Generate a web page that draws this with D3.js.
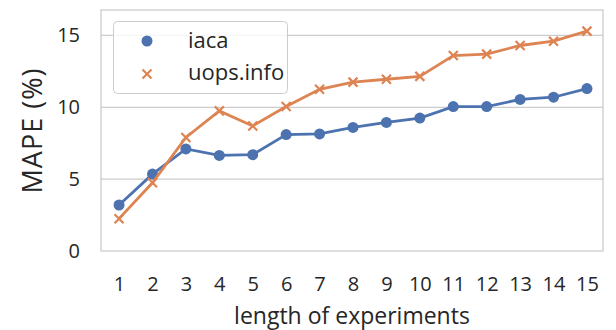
<!DOCTYPE html>
<html>
<head>
<meta charset="utf-8">
<script src="https://cdn.jsdelivr.net/npm/d3@7"></script>
<style>
  body { margin: 0; background: #fff; }
  text { font-family: "Open Sans", "DejaVu Sans", sans-serif; fill: #262626; }
</style>
</head>
<body>
<script>
// chart data
const lengths = [1, 2, 3, 4, 5, 6, 7, 8, 9, 10, 11, 12, 13, 14, 15];
const iaca = [3.2, 5.35, 7.1, 6.65, 6.7, 8.1, 8.15, 8.6, 8.95, 9.25, 10.05, 10.05, 10.55, 10.7, 11.3];
const uops = [2.25, 4.75, 7.9, 9.75, 8.7, 10.05, 11.25, 11.75, 11.95, 12.15, 13.6, 13.7, 14.3, 14.6, 15.3];
const yTicks = [0, 5, 10, 15];
const seriesNames = ["iaca", "uops.info"];

const width = 616, height = 330;
const margin = { left: 101, right: 13, top: 10, bottom: 79 };

const svg = d3.select("body").append("svg")
  .attr("width", width).attr("height", height);

const x = d3.scaleLinear().domain([0.46, 15.48]).range([margin.left, width - margin.right]);
const y = d3.scaleLinear().domain([0, 16.77]).range([height - margin.bottom, margin.top]);

// grid
svg.append("g").selectAll("line").data(yTicks.slice(1)).join("line")
  .attr("x1", margin.left).attr("x2", width - margin.right)
  .attr("y1", d => y(d)).attr("y2", d => y(d))
  .attr("stroke", "#cccccc").attr("stroke-width", 1.3);

// frame
svg.append("rect")
  .attr("x", margin.left).attr("y", margin.top)
  .attr("width", width - margin.left - margin.right)
  .attr("height", height - margin.top - margin.bottom)
  .attr("fill", "none").attr("stroke", "#cccccc").attr("stroke-width", 1.3);

// y axis
const yAxis = svg.append("g")
  .attr("transform", `translate(${margin.left},0)`)
  .call(d3.axisLeft(y).tickValues(yTicks).tickSize(0).tickPadding(21));
yAxis.select(".domain").remove();
yAxis.selectAll("text").style("font-size", "20px").attr("fill", "#262626");

// x axis
const xAxis = svg.append("g")
  .attr("transform", `translate(0,${height - margin.bottom})`)
  .call(d3.axisBottom(x).tickValues(lengths).tickSize(0).tickPadding(26));
xAxis.select(".domain").remove();
xAxis.selectAll("text").style("font-size", "20px").attr("fill", "#262626");

// axis titles
svg.append("text")
  .attr("x", (margin.left + width - margin.right) / 2).attr("y", 324)
  .attr("text-anchor", "middle").style("font-size", "23px")
  .text("length of experiments");
svg.append("text")
  .attr("transform", `translate(42,${(margin.top + height - margin.bottom) / 2}) rotate(-90)`)
  .attr("text-anchor", "middle").style("font-size", "27px")
  .style("letter-spacing", "1px")
  .text("MAPE (%)");

const blue = "#4c72b0", orange = "#dd8452";
const line = d3.line().x((d, i) => x(lengths[i])).y(d => y(d));

function cross(g, cx, cy, s, color) {
  g.append("path")
    .attr("d", `M${cx - s},${cy - s}L${cx + s},${cy + s}M${cx - s},${cy + s}L${cx + s},${cy - s}`)
    .attr("stroke", color).attr("stroke-width", 2.2).attr("fill", "none");
}

// iaca
svg.append("path").datum(iaca)
  .attr("d", line).attr("fill", "none")
  .attr("stroke", blue).attr("stroke-width", 2.8);
svg.append("g").selectAll("circle").data(iaca).join("circle")
  .attr("cx", (d, i) => x(lengths[i])).attr("cy", d => y(d))
  .attr("r", 5.5).attr("fill", blue);

// uops.info
svg.append("path").datum(uops)
  .attr("d", line).attr("fill", "none")
  .attr("stroke", orange).attr("stroke-width", 2.8);
const crosses = svg.append("g");
uops.forEach((v, i) => cross(crosses, x(lengths[i]), y(v), 4.5, orange));

// legend
const lg = svg.append("g");
lg.append("rect")
  .attr("x", 113.5).attr("y", 21.5).attr("width", 174).attr("height", 72)
  .attr("rx", 4).attr("fill", "#fff").attr("fill-opacity", 0.8)
  .attr("stroke", "#cccccc").attr("stroke-width", 1);
lg.append("circle").attr("cx", 147).attr("cy", 41).attr("r", 5.5).attr("fill", blue);
cross(lg, 147, 74, 4.5, orange);
lg.selectAll("text.lbl").data(seriesNames).join("text")
  .attr("class", "lbl")
  .attr("x", 188).attr("y", (d, i) => 47.5 + i * 32)
  .style("font-size", "22px")
  .text(d => d);
</script>
</body>
</html>
